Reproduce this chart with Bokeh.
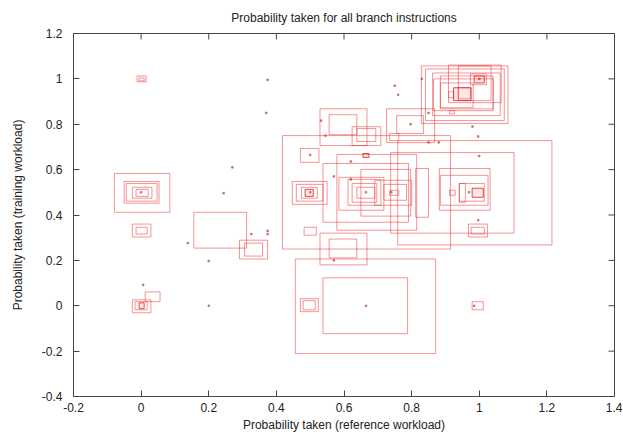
import math
from bokeh.plotting import figure
from bokeh.models import Range1d, FixedTicker
from bokeh.embed import file_html
from bokeh.resources import INLINE

# ---- data ----
# rectangles: left, right, bottom, top (data units)
box_left = [-0.012, -0.006, -0.079, -0.05, -0.044, -0.026, -0.015, -0.026, -0.015, -0.026, -0.018, 0.012,
            0.156, 0.291, 0.306,
            0.456, 0.538, 0.471, 0.479, 0.979,
            0.759, 0.738, 0.418, 0.579, 0.538, 0.65, 0.812, 0.882, 0.885, 0.912, 0.941, 0.941, 0.968, 0.976,
            0.447, 0.459, 0.474, 0.482, 0.471, 0.585, 0.612, 0.624, 0.638, 0.691, 0.718, 0.735, 0.529, 0.556,
            0.529, 0.556, 0.624, 0.638, 0.726, 0.756, 0.735,
            0.829, 0.841, 0.862, 0.885, 0.909, 0.938, 0.974, 0.938, 0.885, 0.909, 0.912, 0.865]
box_right = [0.015, 0.009, 0.085, 0.053, 0.047, 0.032, 0.021, 0.029, 0.018, 0.029, 0.018, 0.056,
             0.312, 0.374, 0.359,
             0.871, 0.788, 0.524, 0.515, 1.012,
             1.215, 1.103, 0.915, 0.815, 0.791, 0.797, 0.85, 1.032, 1.026, 0.929, 0.959, 1.015, 1.024, 1.015,
             0.55, 0.538, 0.521, 0.518, 0.526, 0.718, 0.709, 0.697, 0.691, 0.8, 0.785, 0.762, 0.668, 0.638,
             0.668, 0.638, 0.709, 0.694, 0.868, 0.835, 0.762,
             1.085, 1.074, 1.062, 1.041, 1.065, 1.035, 1.021, 0.974, 0.982, 0.924, 0.926, 1.041]
box_bottom = [0.987, 0.991, 0.412, 0.452, 0.461, 0.474, 0.482, 0.303, 0.316, -0.031, -0.018, 0.018,
              0.254, 0.206, 0.219,
              -0.211, -0.123, -0.026, -0.018, -0.018,
              0.268, 0.32, 0.25, 0.333, 0.368, 0.395, 0.39, 0.421, 0.443, 0.487, 0.456, 0.461, 0.303, 0.316,
              0.447, 0.461, 0.474, 0.311, 0.632, 0.421, 0.443, 0.456, 0.474, 0.443, 0.465, 0.487, 0.18, 0.211,
              0.706, 0.754, 0.706, 0.724, 0.719, 0.759, 0.728,
              0.803, 0.816, 0.838, 0.868, 0.895, 0.904, 0.974, 0.912, 0.873, 0.917, 0.846, 0.86]
box_top = [1.013, 1.004, 0.583, 0.548, 0.539, 0.522, 0.513, 0.36, 0.346, 0.026, 0.018, 0.061,
           0.412, 0.289, 0.276,
           0.206, 0.123, 0.031, 0.022, 0.018,
           0.728, 0.675, 0.75, 0.667, 0.627, 0.601, 0.605, 0.605, 0.575, 0.509, 0.539, 0.539, 0.36, 0.346,
           0.548, 0.535, 0.522, 0.346, 0.693, 0.566, 0.557, 0.539, 0.522, 0.553, 0.535, 0.509, 0.32, 0.294,
           0.868, 0.842, 0.789, 0.781, 0.868, 0.838, 0.759,
           1.057, 1.044, 1.026, 1.013, 1.061, 1.057, 1.022, 0.961, 0.982, 0.943, 0.86, 1.0]

# small dense boxes
fill_left = [-0.006, 0.979, 0.485, 0.656, 0.985, 0.924]
fill_right = [0.009, 1.012, 0.509, 0.674, 1.015, 0.976]
fill_bottom = [-0.013, 0.478, 0.482, 0.654, 0.982, 0.904]
fill_top = [0.013, 0.518, 0.513, 0.671, 1.013, 0.961]

# isolated points
dot_x = [0.374, 0.37, 0.27, 0.244, 0.326, 0.374, 0.374, 0.138, 0.2, 0.006, 0.2, 0.997, 1.0, 0.997,
         0.62, 0.57, 0.62, 0.665, 0.74, 0.57, 0.797, 0.98, 0.83, 0.665, 0.532, 0.545, 0.85, 0.85, 0.88,
         0.5, 0.75, 0.76, 0.5, 0.97, 1.0, 0.0, 0.985]
dot_y = [0.996, 0.85, 0.61, 0.496, 0.316, 0.33, 0.316, 0.276, 0.197, 0.092, 0.0, 0.746, 0.66, 0.377,
         0.636, 0.57, 0.557, 0.5, 0.5, 0.2, 0.8, 0.79, 1.0, 0.0, 0.816, 0.75, 0.85, 0.72, 0.72,
         0.665, 0.97, 0.93, 0.5, 0.5, 1.0, 0.5, 0.0]

x_ticks = [-0.2, 0.0, 0.2, 0.4, 0.6, 0.8, 1.0, 1.2, 1.4]
x_tick_labels = ["-0.2", "0", "0.2", "0.4", "0.6", "0.8", "1", "1.2", "1.4"]
y_ticks = [-0.4, -0.2, 0.0, 0.2, 0.4, 0.6, 0.8, 1.0, 1.2]
y_tick_labels = ["-0.4", "-0.2", "0", "0.2", "0.4", "0.6", "0.8", "1", "1.2"]

FONT = "Liberation Sans"

p = figure(width=622, height=434, output_backend="svg", toolbar_location=None,
           x_range=Range1d(-0.2, 1.4), y_range=Range1d(-0.4, 1.2),
           min_border_left=73, min_border_right=8, min_border_top=33, min_border_bottom=38,
           title="Probability taken for all branch instructions")

p.title.align = "center"
p.title.text_font = FONT
p.title.text_font_size = "12px"
p.title.text_font_style = "normal"
p.title.text_color = "#222222"
p.title.standoff = 17

p.grid.visible = False
p.outline_line_color = "#444444"
p.outline_line_width = 1
p.background_fill_color = "white"
p.border_fill_color = "white"

for ax, ticks, labels in ((p.xaxis[0], x_ticks, x_tick_labels), (p.yaxis[0], y_ticks, y_tick_labels)):
    ax.ticker = FixedTicker(ticks=ticks)
    ax.major_label_overrides = {t: l for t, l in zip(ticks, labels)}
    ax.major_tick_in = 6
    ax.major_tick_out = 0
    ax.minor_tick_line_color = None
    ax.axis_line_color = None
    ax.major_tick_line_color = "#444444"
    ax.major_label_text_font = FONT
    ax.major_label_text_font_size = "12px"
    ax.major_label_text_color = "#222222"
    ax.axis_label_text_font = FONT
    ax.axis_label_text_font_size = "12px"
    ax.axis_label_text_font_style = "normal"
    ax.axis_label_text_color = "#222222"

p.xaxis.axis_label = "Probability taken (reference workload)"
p.yaxis.axis_label = "Probability taken (training workload)"
p.xaxis.major_label_standoff = 6
p.xaxis.axis_label_standoff = 3
p.yaxis.major_label_standoff = 11
p.yaxis.axis_label_standoff = 14

# mirrored ticks on top and right edges
p.ray(x=x_ticks, y=[1.2] * len(x_ticks), length=6, angle=-math.pi / 2, length_units="screen",
      line_color="#444444", line_width=1)
p.ray(x=[1.4] * len(y_ticks), y=y_ticks, length=6, angle=math.pi, length_units="screen",
      line_color="#444444", line_width=1)

p.quad(left=box_left, right=box_right, bottom=box_bottom, top=box_top,
       fill_color=None, line_color="#ee2a2a", line_alpha=0.5, line_width=1)
p.quad(left=fill_left, right=fill_right, bottom=fill_bottom, top=fill_top,
       fill_color="#ee3030", fill_alpha=0.12, line_color="#dd1010", line_alpha=0.75, line_width=1)
p.scatter(x=dot_x, y=dot_y, size=1.6, marker="square", color="#b04040", alpha=0.55)

open("out.html", "w").write(file_html(p, INLINE))
